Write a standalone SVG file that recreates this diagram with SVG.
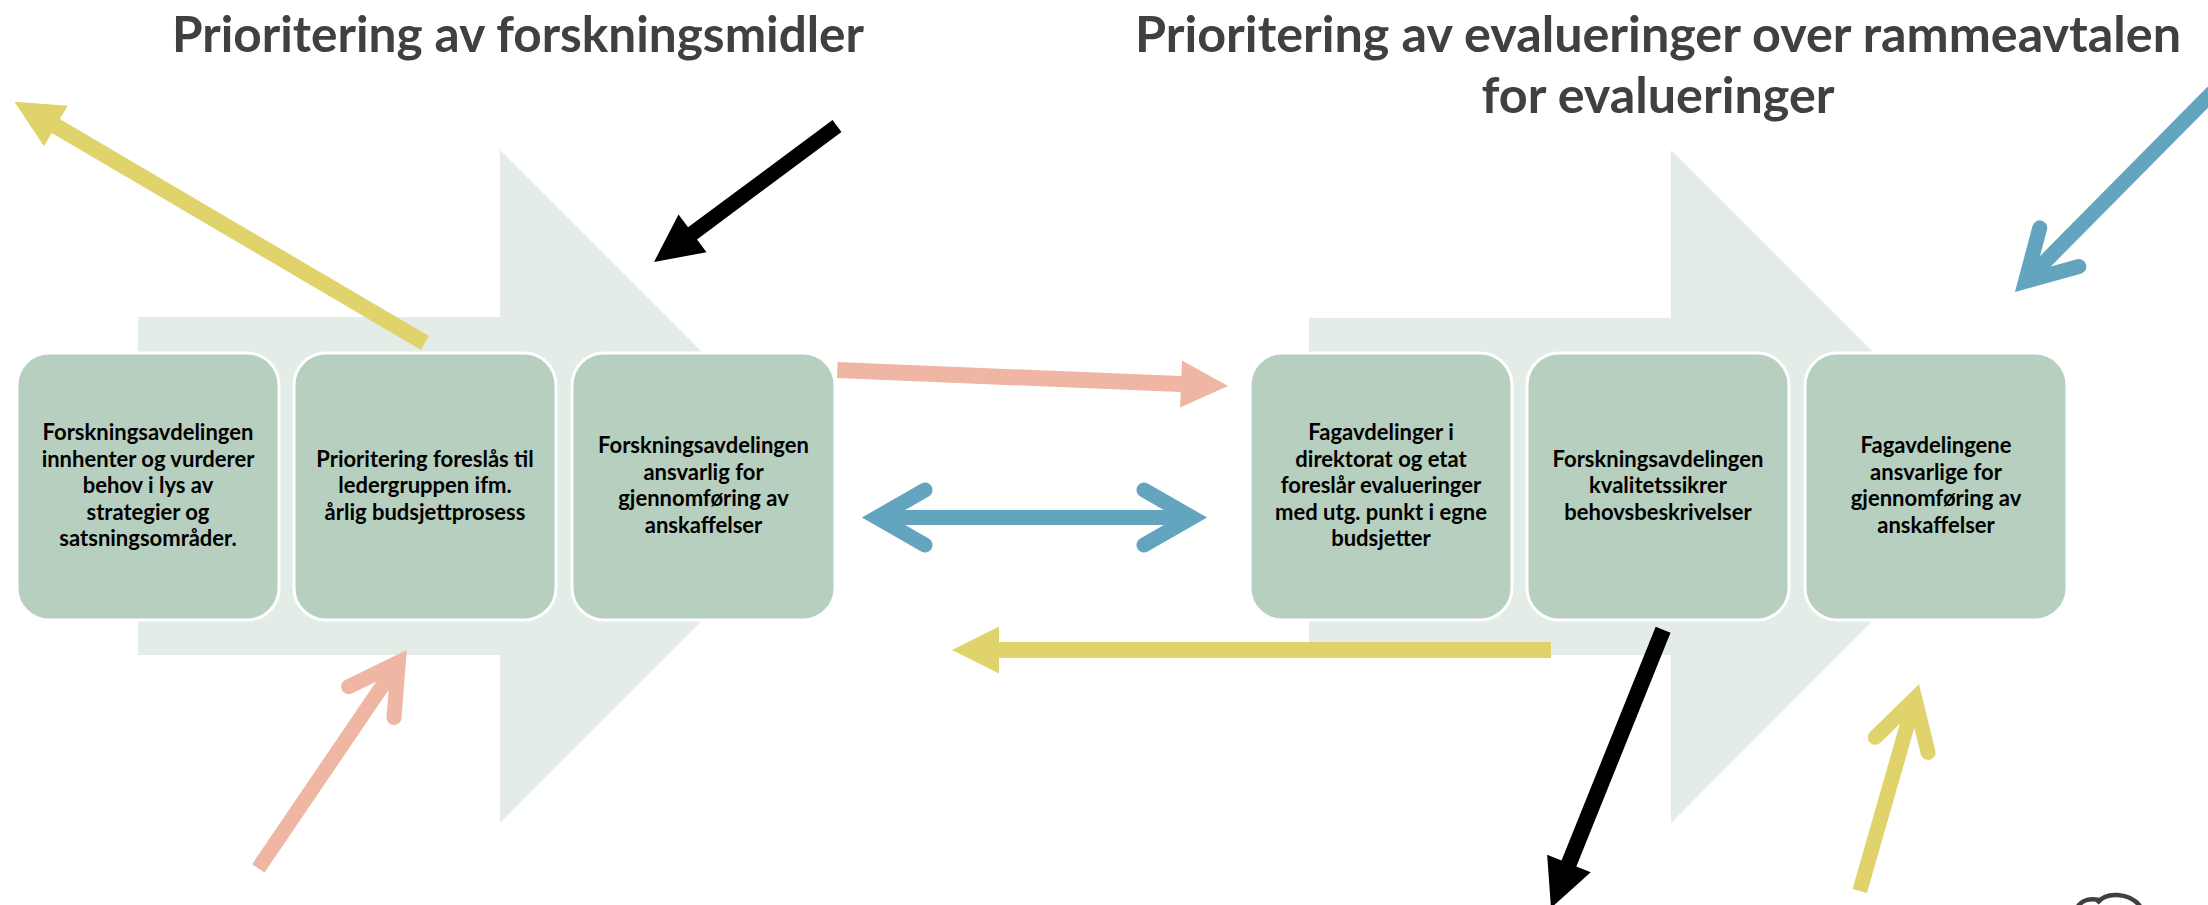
<svg xmlns="http://www.w3.org/2000/svg" width="2208" height="905" viewBox="0 0 2208 905">
<style>
.bg{fill:#E3ECE7}
.box{fill:#B6CFBF;stroke:#FFFFFF;stroke-width:3}
.title{font-family:Lato,"Open Sans","Liberation Sans",sans-serif;font-weight:bold;font-size:49px;fill:#404040;text-anchor:middle}
.lbl{font-family:Lato,"Open Sans","Liberation Sans",sans-serif;font-weight:bold;font-size:22px;fill:#000000;text-anchor:middle}
.yel{fill:#E0D36B}
.pink{fill:#EFB6A4}
.blk{fill:#000000}
.sh{fill:none;stroke-width:15;stroke-linecap:butt}
.chev{fill:none;stroke-width:15;stroke-linecap:round;stroke-linejoin:miter;stroke-miterlimit:6}
.sblue{stroke:#63A5BF}
.spink{stroke:#EFB6A4}
.syel{stroke:#E0D36B}
</style>
<g id="background">
<polygon class="bg" points="138,317 500,317 500,150 836,486 500,823 500,655 138,655"/>
<polygon class="bg" points="1309,318 1671,318 1671,150 2007,486 1671,823 1671,655 1309,655"/>
</g>
<g id="titles">
<text class="title" x="518" y="52" textLength="692" lengthAdjust="spacingAndGlyphs">Prioritering av forskningsmidler</text>
<text class="title" x="1658" y="52" textLength="1046" lengthAdjust="spacingAndGlyphs">Prioritering av evalueringer over rammeavtalen</text>
<text class="title" x="1658" y="113" textLength="353" lengthAdjust="spacingAndGlyphs">for evalueringer</text>
</g>
<g id="node1">
<rect class="box" x="17" y="353" width="262" height="267" rx="32"/>
<text class="lbl" x="148" y="440">Forskningsavdelingen</text>
<text class="lbl" x="148" y="466.5">innhenter og vurderer</text>
<text class="lbl" x="148" y="493">behov i lys av</text>
<text class="lbl" x="148" y="519.5">strategier og</text>
<text class="lbl" x="148" y="546">satsningsområder.</text>
</g>
<g id="node2">
<rect class="box" x="294" y="353" width="262" height="267" rx="32"/>
<text class="lbl" x="425" y="466.5">Prioritering foreslås til</text>
<text class="lbl" x="425" y="493">ledergruppen ifm.</text>
<text class="lbl" x="425" y="519.5">årlig budsjettprosess</text>
</g>
<g id="node3">
<rect class="box" x="572" y="353" width="263" height="267" rx="32"/>
<text class="lbl" x="703.5" y="453">Forskningsavdelingen</text>
<text class="lbl" x="703.5" y="480">ansvarlig for</text>
<text class="lbl" x="703.5" y="506">gjennomføring av</text>
<text class="lbl" x="703.5" y="533">anskaffelser</text>
</g>
<g id="node4">
<rect class="box" x="1250" y="353" width="262" height="267" rx="32"/>
<text class="lbl" x="1381" y="440">Fagavdelinger i</text>
<text class="lbl" x="1381" y="466.5">direktorat og etat</text>
<text class="lbl" x="1381" y="493">foreslår evalueringer</text>
<text class="lbl" x="1381" y="519.5">med utg. punkt i egne</text>
<text class="lbl" x="1381" y="546">budsjetter</text>
</g>
<g id="node5">
<rect class="box" x="1527" y="353" width="262" height="267" rx="32"/>
<text class="lbl" x="1658" y="466.5">Forskningsavdelingen</text>
<text class="lbl" x="1658" y="493">kvalitetssikrer</text>
<text class="lbl" x="1658" y="519.5">behovsbeskrivelser</text>
</g>
<g id="node6">
<rect class="box" x="1805" y="353" width="262" height="267" rx="32"/>
<text class="lbl" x="1936" y="453">Fagavdelingene</text>
<text class="lbl" x="1936" y="480">ansvarlige for</text>
<text class="lbl" x="1936" y="506">gjennomføring av</text>
<text class="lbl" x="1936" y="533">anskaffelser</text>
</g>
<g id="connectors">
<polygon class="yel" transform="translate(14.4,101.7) rotate(-149.56)" points="-476,-8 -48,-8 -48,-23.5 0,0 -48,23.5 -48,8 -476,8"/>
<polygon class="blk" transform="translate(654,262) rotate(143.38)" points="-228,-7.5 -48,-7.5 -48,-23.5 0,0 -48,23.5 -48,7.5 -228,7.5"/>
<polygon class="pink" transform="translate(1228,386) rotate(2.34)" points="-391,-8 -47,-8 -47,-23.5 0,0 -47,23.5 -47,8 -391,8"/>
<polygon class="yel" transform="translate(952,650) rotate(180)" points="-599,-8 -47,-8 -47,-23.5 0,0 -47,23.5 -47,8 -599,8"/>
<polygon class="blk" transform="translate(1551,908) rotate(111.94)" points="-300,-8 -48,-8 -48,-23.5 0,0 -48,23.5 -48,8 -300,8"/>
<g id="blue-double">
<line class="sh sblue" x1="877" y1="517.5" x2="1192" y2="517.5"/>
<polyline class="chev sblue" transform="translate(862,517.5) rotate(180)" points="-63,-27.5 -15,0 -63,27.5"/>
<polyline class="chev sblue" transform="translate(1207,517.5)" points="-63,-27.5 -15,0 -63,27.5"/>
</g>
<g transform="translate(2015,292) rotate(134.7)">
<line class="sh sblue" x1="-310" y1="0" x2="-15" y2="0"/>
<polyline class="chev sblue" points="-63,-27.5 -15,0 -63,27.5"/>
</g>
<g transform="translate(406.7,650) rotate(-55.8)">
<line class="sh spink" x1="-264" y1="0" x2="-15" y2="0"/>
<polyline class="chev spink" points="-63,-27.5 -15,0 -63,27.5"/>
</g>
<g transform="translate(1919,684.3) rotate(-74)">
<line class="sh syel" x1="-215" y1="0" x2="-15" y2="0"/>
<polyline class="chev syel" points="-63,-27.5 -15,0 -63,27.5"/>
</g>
</g>
<g id="corner-icon">
<path d="M2078,906 Q2085,897 2099,900 M2097,903 Q2104,894 2118,895 Q2132,896 2140,906" fill="none" stroke="#404040" stroke-width="4.5"/>
</g>
</svg>
